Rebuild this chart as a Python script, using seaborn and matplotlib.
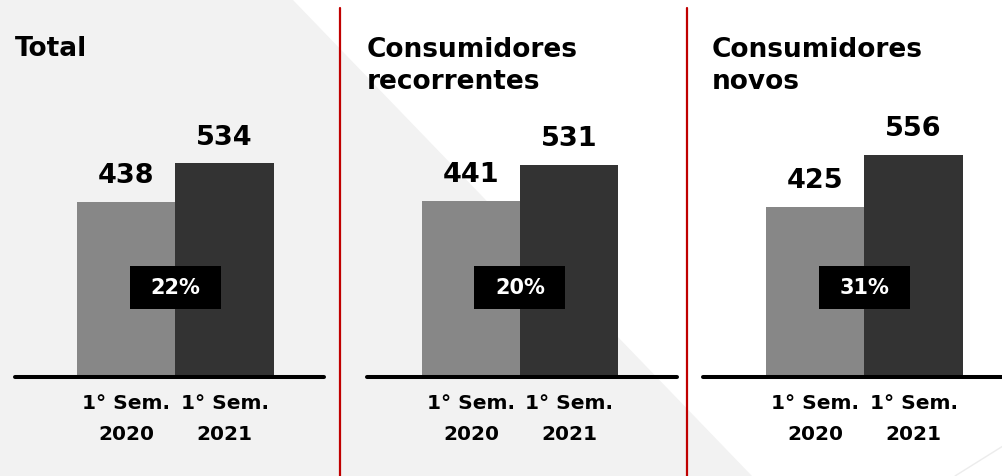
import matplotlib
matplotlib.use("Agg")
import matplotlib.pyplot as plt
from matplotlib.patches import Polygon, Rectangle
from matplotlib.lines import Line2D
import seaborn as sns
import pandas as pd

# ---- data ----
periods = ["1° Sem.\n2020", "1° Sem.\n2021"]
titles = ["Total", "Consumidores\nrecorrentes", "Consumidores\nnovos"]
values_total = [438, 534]
values_recorrentes = [441, 531]
values_novos = [425, 556]
growth_labels = ["22%", "20%", "31%"]

sns.set_theme(style="white")
plt.rcParams["font.family"] = ["DejaVu Sans"]

W, H = 1003, 476
fig = plt.figure(figsize=(W / 100, H / 100), dpi=100)
fig.patch.set_facecolor("white")

def fx(x):
    return x / W

def fy(y):
    return 1 - y / H

# background light gray shape
fig.patches.append(Polygon([(fx(0), fy(0)), (fx(293), fy(0)), (fx(752), fy(476)), (fx(0), fy(476))],
                           closed=True, transform=fig.transFigure, facecolor="#f2f2f2",
                           edgecolor="none", zorder=-10))
fig.lines.append(Line2D([fx(955), fx(1003)], [fy(476), fy(446)], transform=fig.transFigure,
                        color="#ececec", lw=1.0, zorder=-9))

# red separators
for xs in (340, 687):
    fig.lines.append(Line2D([fx(xs), fx(xs)], [fy(8), fy(476)], transform=fig.transFigure,
                            color="#c00000", lw=1.6, zorder=5))

# panel geometry in pixels: axes left, right, first bar left edge, bar width, title x
panels = [
    dict(L=15, R=324, B0=77, BW=98.5, TX=15),
    dict(L=367, R=677, B0=422, BW=98.0, TX=367),
    dict(L=703, R=1003, B0=766, BW=98.5, TX=712),
]
all_values = [values_total, values_recorrentes, values_novos]
baseline_px = 377
px_per_unit = 0.4
palette = {periods[0]: "#878787", periods[1]: "#333333"}

for p, vals, title, glab in zip(panels, all_values, titles, growth_labels):
    ax = fig.add_axes([fx(p["L"]), fy(baseline_px), (p["R"] - p["L"]) / W, baseline_px / H])
    ax.set_facecolor("none")
    df = pd.DataFrame({"period": periods, "value": vals})
    sns.barplot(data=df, x="period", y="value", hue="period", palette=palette,
                width=1.0, legend=False, ax=ax, saturation=1, linewidth=0)
    ax.set_ylim(0, baseline_px / px_per_unit)
    ax.set_xlim(-0.5 - (p["B0"] - p["L"]) / p["BW"], -0.5 + (p["R"] - p["B0"]) / p["BW"])
    for s in ["top", "right", "left", "bottom"]:
        ax.spines[s].set_visible(False)
    ax.axhline(0, color="black", lw=2.9, zorder=4, clip_on=False)
    ax.set_yticks([])
    ax.set_xlabel("")
    ax.set_ylabel("")
    ax.set_xticks(range(len(periods)))
    ax.set_xticklabels(periods, fontsize=14.5, fontweight="bold", color="black",
                       linespacing=1.75)
    ax.tick_params(axis="x", length=0, pad=12.5)
    # value labels
    for i, v in enumerate(vals):
        ax.annotate(str(v), (i, v), xytext=(0, 13.5), textcoords="offset points",
                    ha="center", va="baseline", fontsize=19.5, fontweight="bold", color="black")
    # growth box
    bw = 91 / p["BW"]
    ax.add_patch(Rectangle((0.5 - bw / 2, 170), bw, 107, facecolor="black",
                           edgecolor="none", zorder=6))
    ax.text(0.5, 223.5, glab, ha="center", va="center", fontsize=15, fontweight="bold",
            color="white", zorder=7)
    # title (va='baseline' aligns the last line)
    nlines = title.count("\n")
    fig.text(fx(p["TX"]), fy(56 + 33 * nlines), title, ha="left", va="baseline", fontsize=19,
             fontweight="bold", color="black", linespacing=1.32)

fig.savefig("out.png", dpi=100)
